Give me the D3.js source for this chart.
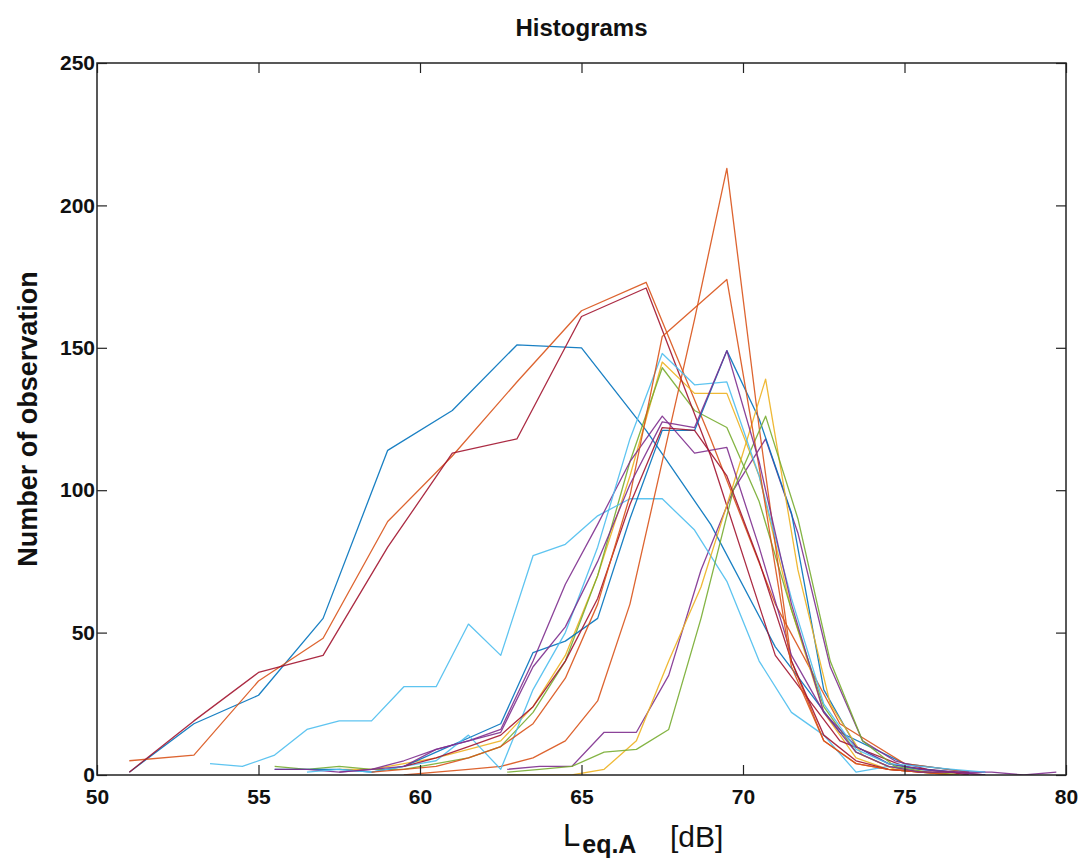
<!DOCTYPE html>
<html>
<head>
<meta charset="utf-8">
<script src="https://cdn.jsdelivr.net/npm/d3@7"></script>
<style>
    html, body { margin: 0; padding: 0; background: #fff; }
    svg { display: block; }
    text { font-family: "Liberation Sans", Arial, sans-serif; fill: #111; }
</style>
</head>
<body>
<div id="chart"></div>
<script>
// bin centres (dB)
const wideBins = [51, 53, 55, 57, 59, 61, 63, 65, 67, 69, 71, 73, 75, 77];
const fineBins = [53.5, 54.5, 55.5, 56.5, 57.5, 58.5, 59.5, 60.5, 61.5, 62.5, 63.5, 64.5, 65.5, 66.5,
    67.5, 68.5, 69.5, 70.5, 71.5, 72.5, 73.5, 74.5, 75.5, 76.5, 77.5, 78.5, 79.5];
const shiftBins = [62.7, 63.7, 64.7, 65.7, 66.7, 67.7, 68.7, 69.7, 70.7, 71.7, 72.7, 73.7, 74.7,
    75.7, 76.7, 77.7, 78.7, 79.7];

// counts per histogram (null = no bin)
const wideBlue   = [1, 18, 28, 55, 114, 128, 151, 150, 121, 88, 45, 15, 4, 1];
const wideOrange = [5, 7, 33, 48, 89, 112, 138, 163, 173, 118, 60, 18, 4, 1];
const wideRed    = [1, 19, 36, 42, 80, 113, 118, 161, 171, 112, 42, 12, 3, 0];

const cyanLow     = [4, 3, 7, 16, 19, 19, 31, 31, 53, 42, 77, 81, 91, 97, 97, 86, 68, 40, 22, 14, 1, 3, 2, 1, null, null, null];
const orangeSpike = [null, null, null, null, null, null, 0, 1, 2, 3, 6, 12, 26, 60, 110, 160, 213, 122, 40, 12, 4, 2, 1, 0, null, null, null];
const orange174   = [null, null, null, null, null, 1, 2, 3, 6, 10, 18, 34, 60, 98, 154, 164, 174, 108, 38, 12, 4, 2, 1, 0, null, null, null];
const blue149     = [null, null, 2, 2, 2, 1, 3, 8, 13, 18, 43, 47, 55, 90, 121, 121, 149, 125, 92, 30, 10, 4, 2, 1, null, null, null];
const purple149   = [null, null, null, null, 1, 2, 3, 9, 12, 15, 38, 52, 75, 102, 124, 122, 149, 110, 60, 22, 8, 3, 1, 1, 0, null, null];
const teal148     = [null, null, null, 1, 2, 1, 3, 5, 14, 2, 30, 50, 80, 118, 148, 137, 138, 105, 62, 25, 9, 4, 3, 2, 1, null, null];
const green143    = [null, null, 3, 2, 3, 2, 2, 4, 6, 10, 22, 40, 70, 110, 143, 128, 122, 96, 58, 24, 8, 3, 1, 0, null, null, null];
const yellow134   = [null, null, null, null, 2, 2, 4, 6, 9, 12, 24, 42, 70, 105, 145, 134, 134, 105, 58, 22, 6, 2, 1, null, null, null, null];
const purple126   = [null, null, 2, 2, 1, 2, 5, 9, 12, 16, 40, 67, 88, 110, 126, 113, 115, 80, 42, 22, 10, 4, 2, 1, 1, null, null];
const red122      = [null, null, null, null, null, null, 3, 6, 10, 14, 24, 40, 62, 95, 122, 121, 105, 75, 40, 14, 5, 2, 1, 1, 0, null, null];

const yellowSpike = [0, 0, 0, 2, 12, 40, 66, 102, 139, 72, 25, 7, 2, 1, 0, null, null, null];
const greenLate   = [1, 2, 3, 8, 9, 16, 55, 100, 126, 90, 40, 12, 3, 1, 0, null, null, null];
const purpleLate  = [2, 3, 3, 15, 15, 35, 72, 100, 118, 85, 38, 12, 5, 2, 1, 1, 0, 1];

const xTicks = [50, 55, 60, 65, 70, 75, 80];
const yTicks = [0, 50, 100, 150, 200, 250];

// MATLAB default line colours
const matlab = {
    blue: "#0072BD", orange: "#D95319", yellow: "#EDB120", purple: "#7E2F8E",
    green: "#77AC30", cyan: "#4DBEEE", red: "#A2142F"
};

const series = [
    { bins: wideBins, counts: wideBlue, color: matlab.blue },
    { bins: wideBins, counts: wideOrange, color: matlab.orange },
    { bins: fineBins, counts: yellow134, color: matlab.yellow },
    { bins: shiftBins, counts: purpleLate, color: matlab.purple },
    { bins: fineBins, counts: green143, color: matlab.green },
    { bins: fineBins, counts: cyanLow, color: matlab.cyan },
    { bins: wideBins, counts: wideRed, color: matlab.red },
    { bins: fineBins, counts: blue149, color: matlab.blue },
    { bins: fineBins, counts: orangeSpike, color: matlab.orange },
    { bins: shiftBins, counts: yellowSpike, color: matlab.yellow },
    { bins: fineBins, counts: purple126, color: matlab.purple },
    { bins: shiftBins, counts: greenLate, color: matlab.green },
    { bins: fineBins, counts: teal148, color: matlab.cyan },
    { bins: fineBins, counts: red122, color: matlab.red },
    { bins: fineBins, counts: orange174, color: matlab.orange },
    { bins: fineBins, counts: purple149, color: matlab.purple }
];

const W = 1083, H = 860;
const margin = { top: 63, right: 17, bottom: 85, left: 97 };
const width = W - margin.left - margin.right;
const height = H - margin.top - margin.bottom;

const svg = d3.select("#chart")
    .append("svg")
    .attr("width", W)
    .attr("height", H);

const g = svg.append("g")
    .attr("transform", `translate(${margin.left},${margin.top})`);

const x = d3.scaleLinear().domain([50, 80]).range([0, width]);
const y = d3.scaleLinear().domain([0, 250]).range([height, 0]);

const line = d3.line()
    .defined(d => d[1] != null)
    .x(d => x(d[0]))
    .y(d => y(d[1]));

g.append("defs").append("clipPath")
    .attr("id", "clip")
    .append("rect")
    .attr("width", width)
    .attr("height", height);

g.append("g")
    .attr("clip-path", "url(#clip)")
    .selectAll("path")
    .data(series)
    .enter()
    .append("path")
    .attr("fill", "none")
    .attr("stroke", d => d.color)
    .attr("stroke-width", 1.3)
    .attr("stroke-opacity", 0.9)
    .attr("stroke-linejoin", "round")
    .attr("d", d => line(d.bins.map((b, i) => [b, d.counts[i]])));

// axes: ticks point inwards on all four sides
const tick = 10;
const styleAxis = sel => {
    sel.select(".domain").remove();
    sel.selectAll(".tick line").attr("stroke", "#222").attr("stroke-width", 1.2);
    sel.selectAll(".tick text")
        .style("font-size", "21px")
        .style("font-weight", "bold")
        .attr("fill", "#111");
};

g.append("g")
    .attr("transform", `translate(0,${height})`)
    .call(d3.axisBottom(x).tickValues(xTicks).tickSize(-tick).tickPadding(14))
    .call(styleAxis);

g.append("g")
    .call(d3.axisTop(x).tickValues(xTicks).tickSize(-tick).tickFormat(""))
    .call(styleAxis);

g.append("g")
    .call(d3.axisLeft(y).tickValues(yTicks).tickSize(-tick).tickPadding(2))
    .call(styleAxis);

g.append("g")
    .attr("transform", `translate(${width},0)`)
    .call(d3.axisRight(y).tickValues(yTicks).tickSize(-tick).tickFormat(""))
    .call(styleAxis);

g.append("rect")
    .attr("width", width)
    .attr("height", height)
    .attr("fill", "none")
    .attr("stroke", "#222")
    .attr("stroke-width", 1.5);

// title and axis labels
svg.append("text")
    .attr("x", margin.left + width / 2)
    .attr("y", 36)
    .attr("text-anchor", "middle")
    .style("font-size", "24px")
    .style("font-weight", "bold")
    .text("Histograms");

svg.append("text")
    .attr("transform", `translate(37,${margin.top + height / 2}) rotate(-90)`)
    .attr("text-anchor", "middle")
    .style("font-size", "27px")
    .style("font-weight", "bold")
    .text("Number of observation");

const xl = svg.append("text")
    .attr("x", 563)
    .attr("y", 846)
    .attr("text-anchor", "start");
xl.append("tspan").style("font-size", "31px").text("L");
xl.append("tspan").attr("dx", 2).attr("dy", 7).style("font-size", "25px").style("font-weight", "bold").text("eq.A");
xl.append("tspan").attr("x", 670).attr("y", 847).style("font-size", "30px").text("[dB]");
</script>
</body>
</html>
